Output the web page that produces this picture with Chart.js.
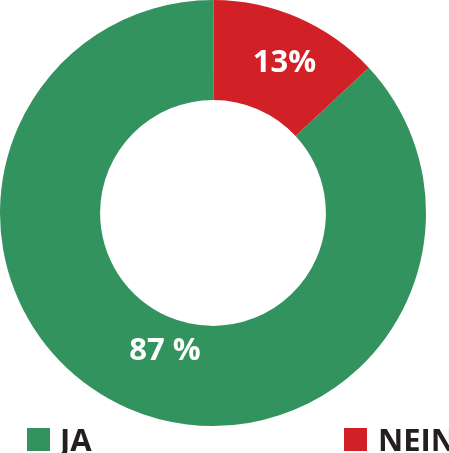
<!DOCTYPE html>
<html>
<head>
<meta charset="utf-8">
<script src="https://cdn.jsdelivr.net/npm/chart.js@4"></script>
<style>
  html, body { margin: 0; padding: 0; background: #fff; }
  #wrap { width: 449px; height: 453px; position: relative; }
</style>
</head>
<body>
<div id="wrap"><canvas id="vote"></canvas></div>
<script>
// ---- data ----
const labels = ["JA", "NEIN"];
const shares = [87, 13];
const colors = ["#33935f", "#d22027"];
const valueTexts = ["87 %", "13%"];

// where inside its segment each value label sits (angle fraction, ring fraction)
const labelSpots = [[0.486, 0.33], [0.54, 0.53]];

const sliceLabels = {
  id: "sliceLabels",
  afterDatasetsDraw(chart) {
    const ctx = chart.ctx;
    const arcs = chart.getDatasetMeta(0).data;
    ctx.save();
    ctx.fillStyle = "#fff";
    ctx.font = "bold 31px 'Open Sans'";
    ctx.textAlign = "center";
    ctx.textBaseline = "middle";
    arcs.forEach((arc, i) => {
      const a = arc.getProps(["x", "y", "startAngle", "endAngle", "innerRadius", "outerRadius"]);
      const ang = a.startAngle + (a.endAngle - a.startAngle) * labelSpots[i][0];
      const r = a.innerRadius + (a.outerRadius - a.innerRadius) * labelSpots[i][1];
      ctx.fillText(valueTexts[i], a.x + Math.cos(ang) * r, a.y + Math.sin(ang) * r);
    });
    ctx.restore();
  }
};

// legend: first item at the left, last item pushed to the right edge
const sideLegend = {
  id: "sideLegend",
  afterDraw(chart) {
    const ctx = chart.ctx;
    const y = chart.height - 2;
    ctx.save();
    ctx.font = "bold 31px 'Open Sans'";
    ctx.textBaseline = "alphabetic";
    ctx.textAlign = "left";
    ctx.fillStyle = colors[0];
    ctx.fillRect(27, y - 23, 23, 23);
    ctx.fillStyle = "#231f20";
    ctx.fillText(labels[0], 60, y);
    ctx.fillStyle = colors[1];
    ctx.fillRect(344, y - 23, 23, 23);
    ctx.fillStyle = "#231f20";
    ctx.fillText(labels[1], 378, y);
    ctx.restore();
  }
};

new Chart(document.getElementById("vote"), {
  type: "doughnut",
  data: {
    labels,
    datasets: [{
      data: shares,
      backgroundColor: colors,
      borderWidth: 0
    }]
  },
  options: {
    responsive: true,
    maintainAspectRatio: false,
    animation: false,
    cutout: "53%",
    rotation: 47,   // red slice starts at 12 o'clock
    layout: { padding: { left: 0, top: 0, right: 23, bottom: 27 } },
    plugins: {
      legend: { display: false },
      tooltip: { enabled: false }
    }
  },
  plugins: [sliceLabels, sideLegend]
});
</script>
</body>
</html>
